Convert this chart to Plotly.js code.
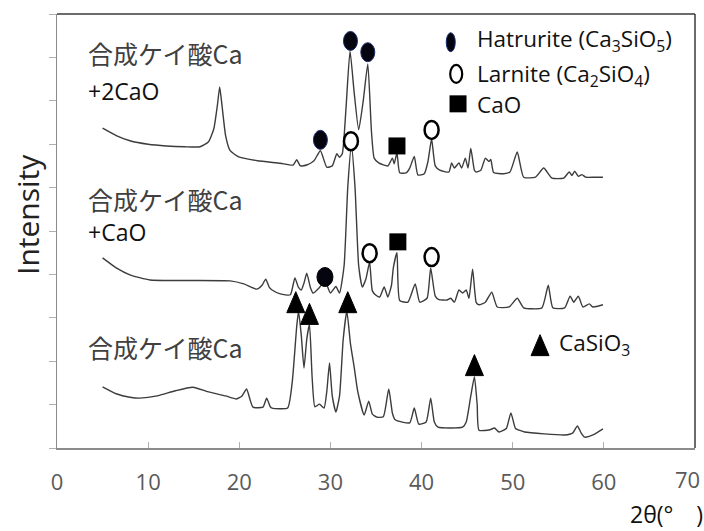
<!DOCTYPE html>
<html>
<head>
<meta charset="utf-8">
<script src="https://cdn.plot.ly/plotly-3.0.1.min.js"></script>
<style>html,body{margin:0;padding:0;background:#fff;}#chart{width:704px;height:531px;}</style>
</head>
<body>
<div id="chart"></div>
<script>
// ---- data (2θ in degrees, intensity in offset arbitrary units) ----
var topX = [5.0,6.5,8.0,10.0,12.0,14.0,15.7,16.6,17.2,17.6,17.85,18.1,18.5,19.0,20.0,22.0,24.5,25.9,26.3,26.7,27.4,28.2,28.9,29.6,30.2,30.7,31.0,31.3,31.7,32.15,32.6,33.1,33.6,34.1,34.5,34.8,35.3,36.3,36.8,37.0,37.3,37.6,38.3,38.7,39.2,39.6,40.3,40.7,41.1,41.5,42.0,43.0,43.3,43.6,44.1,44.4,44.8,45.1,45.4,45.8,46.0,46.5,47.0,47.4,47.6,47.9,49.0,49.7,50.5,51.2,52.5,53.4,54.3,55.6,56.2,56.5,56.8,57.2,57.6,58.0,59.0,59.9];
var topY = [7.37,7.2,7.08,7.0,6.96,6.94,6.94,7.05,7.35,7.9,8.32,7.9,7.2,6.85,6.7,6.62,6.56,6.52,6.64,6.5,6.52,6.62,6.85,6.47,6.5,6.78,6.7,6.78,7.8,9.15,8.2,7.33,8.0,8.85,7.3,6.68,6.57,6.5,6.68,6.55,6.8,6.34,6.34,6.45,6.72,6.29,6.32,6.6,7.12,6.5,6.4,6.36,6.57,6.45,6.57,6.45,6.68,6.45,6.91,6.4,6.36,6.4,6.68,6.6,6.65,6.35,6.32,6.36,6.82,6.24,6.24,6.45,6.22,6.22,6.36,6.28,6.38,6.26,6.3,6.24,6.24,6.24];

var midX = [5.0,6.5,8.0,10.2,14.0,19.0,20.5,21.9,22.5,22.9,23.3,23.6,24.5,25.6,26.1,26.5,26.8,27.1,27.4,27.8,28.1,28.8,29.4,30.0,30.6,31.0,31.5,31.9,32.3,32.7,33.1,33.5,33.9,34.3,34.6,35.0,35.4,35.9,36.3,36.7,36.9,37.3,37.6,38.5,39.3,39.8,40.6,41.0,41.5,41.9,42.8,43.2,43.6,44.1,44.5,44.9,45.2,45.6,46.0,46.3,47.0,47.7,48.3,49.6,50.5,51.2,53.2,53.9,54.4,55.7,56.3,56.7,57.2,57.7,58.4,58.8,59.9];
var midY = [4.38,4.15,3.99,3.87,3.86,3.85,3.78,3.66,3.75,3.89,3.7,3.64,3.55,3.53,3.92,3.7,3.64,3.8,4.03,3.7,3.57,3.7,3.85,3.57,3.72,3.57,4.2,6.0,6.98,6.0,4.2,3.71,3.9,4.28,3.62,3.52,3.48,3.71,3.48,3.75,4.15,4.5,3.4,3.36,3.78,3.36,3.45,4.15,3.5,3.42,3.41,3.45,3.36,3.64,3.57,3.64,3.45,4.12,3.35,3.3,3.36,3.59,3.25,3.25,3.45,3.23,3.23,3.75,3.23,3.23,3.5,3.36,3.5,3.25,3.32,3.25,3.3];

var botX = [5.0,6.5,8.0,9.1,11.0,13.0,14.9,16.5,18.5,19.7,20.3,20.8,21.2,21.5,22.6,23.0,23.4,23.6,25.3,25.8,26.3,26.5,26.8,27.1,27.4,27.7,28.0,28.3,28.8,29.3,29.6,29.9,30.2,30.6,31.0,31.4,31.8,32.2,32.6,33.0,33.7,34.2,34.6,35.1,35.8,36.4,36.8,37.1,38.7,39.2,39.7,40.5,41.0,41.4,41.8,44.5,44.9,45.4,45.8,46.1,46.3,47.5,48.0,48.5,49.3,49.8,50.3,50.7,51.3,55.7,56.6,57.1,57.5,57.9,58.8,59.9];
var botY = [1.41,1.25,1.17,1.15,1.2,1.32,1.4,1.3,1.2,1.13,1.2,1.36,1.1,0.94,0.94,1.15,0.95,0.92,0.92,1.5,2.8,3.15,2.6,1.84,2.5,2.85,1.6,0.95,1.01,0.92,1.3,1.96,1.2,0.83,1.2,2.5,3.15,2.4,1.87,1.3,0.76,1.08,0.78,0.71,0.72,1.36,0.8,0.65,0.58,0.92,0.55,0.6,1.15,0.6,0.48,0.48,0.6,1.2,1.64,1.0,0.41,0.42,0.46,0.37,0.45,0.81,0.45,0.41,0.37,0.3,0.35,0.51,0.35,0.25,0.3,0.44];

// phase marker positions
var hatX = [28.9, 32.2, 34.1, 29.4];
var hatY = [7.1, 9.38, 9.12, 3.94];
var larX = [32.25, 41.1, 34.3, 41.1];
var larY = [7.07, 7.33, 4.49, 4.40];
var caoX = [37.3, 37.4];
var caoY = [6.96, 4.75];
var triX = [26.2, 27.7, 31.9, 45.8];
var triY = [3.36, 3.09, 3.36, 1.91];

// key (legend) positions
var keyHatX = [43.2], keyHatY = [9.35];
var keyLarX = [43.8], keyLarY = [8.62];
var keyCaoX = [44.0], keyCaoY = [7.93];
var keyTriX = [53.0], keyTriY = [2.37];

var keyLabels = ['Hatrurite (Ca<sub>3</sub>SiO<sub>5</sub>)', 'Larnite (Ca<sub>2</sub>SiO<sub>4</sub>)', 'CaO', 'CaSiO<sub>3</sub>'];
var keyLabelX = [45.9, 45.9, 45.9, 54.9];
var keyLabelY = [9.39, 8.6, 7.92, 2.4];

var sampleLabels = ['合成ケイ酸Ca', '+2CaO', '合成ケイ酸Ca', '+CaO', '合成ケイ酸Ca'];
var sampleLabelX = [3.2, 3.2, 3.2, 3.2, 3.2];
var sampleLabelY = [9.1, 8.22, 5.74, 4.97, 2.33];
var xTicks = [0, 10, 20, 30, 40, 50, 60, 70];

// ---- layout helpers ----
var W = 704, H = 531;
var M = {l: 57, r: 9, t: 14, b: 83};
var pw = W - M.l - M.r, ph = H - M.t - M.b;
var XR = [0, 70], YR = [0, 10];
function ux(px) { return px * (XR[1] - XR[0]) / pw; }
function uy(px) { return px * (YR[1] - YR[0]) / ph; }

var shapes = [];
function ellipse(x, y, wpx, hpx, fill, lc, lw) {
  shapes.push({type: 'circle', xref: 'x', yref: 'y',
    x0: x - ux(wpx / 2), x1: x + ux(wpx / 2), y0: y - uy(hpx / 2), y1: y + uy(hpx / 2),
    fillcolor: fill, line: {color: lc, width: lw}, layer: 'above'});
}
function triangle(x, y, wpx, hpx) {
  var hw = ux(wpx / 2), hh = uy(hpx / 2);
  shapes.push({type: 'path', xref: 'x', yref: 'y',
    path: 'M' + (x - hw) + ',' + (y - hh) + ' L' + (x + hw) + ',' + (y - hh) + ' L' + x + ',' + (y + hh) + ' Z',
    fillcolor: '#000', line: {color: '#000', width: 1}, layer: 'above'});
}
hatX.forEach(function (x, i) { ellipse(x, hatY[i], i === 3 ? 16 : 14, 19, '#05050f', i === 3 ? '#000' : '#1c2f6e', 1); });
larX.forEach(function (x, i) { ellipse(x, larY[i], 14, 18, '#fff', '#000', 2.5); });
triX.forEach(function (x, i) { triangle(x, triY[i], 18, 21); });
ellipse(keyHatX[0], keyHatY[0], 9, 19, '#05050f', '#1c2f6e', 1);
ellipse(keyLarX[0], keyLarY[0], 12, 18, '#fff', '#000', 2.2);
triangle(keyTriX[0], keyTriY[0], 18, 21);
// frame: top and right edges darker
shapes.push({type: 'line', xref: 'paper', yref: 'paper', x0: 0, x1: 1, y0: 1, y1: 1, line: {color: '#3a3a3a', width: 1.5}});
shapes.push({type: 'line', xref: 'paper', yref: 'paper', x0: 1, x1: 1, y0: 0, y1: 1, line: {color: '#3a3a3a', width: 1.5}});

var lineStyle = {color: '#3c3c3c', width: 1.4, shape: 'spline', smoothing: 0.5};
var data = [
  {x: botX, y: botY, mode: 'lines', line: lineStyle, hoverinfo: 'skip'},
  {x: midX, y: midY, mode: 'lines', line: lineStyle, hoverinfo: 'skip'},
  {x: topX, y: topY, mode: 'lines', line: lineStyle, hoverinfo: 'skip'},
  {x: caoX.concat(keyCaoX), y: caoY.concat(keyCaoY), mode: 'markers',
   marker: {symbol: 'square', size: 17, color: '#000'}, hoverinfo: 'skip'}
];

var tickFont = {family: '"Open Sans"', size: 22, color: '#5a5a5a'};
var lastTick = xTicks[xTicks.length - 1];
var annotations = [];
sampleLabels.forEach(function (t, i) {
  var cjk = /[^\x00-\x7f]/.test(t);
  annotations.push({text: t, x: sampleLabelX[i], y: sampleLabelY[i], xref: 'x', yref: 'y',
    xanchor: 'left', yanchor: 'middle', showarrow: false,
    font: {family: cjk ? '"Noto Sans CJK JP", "Open Sans"' : '"Open Sans"', size: cjk ? 25 : 23, color: cjk ? '#404040' : '#111'}});
});
keyLabels.forEach(function (t, i) {
  annotations.push({text: t, x: keyLabelX[i], y: keyLabelY[i], xref: 'x', yref: 'y',
    xanchor: 'left', yanchor: 'middle', showarrow: false,
    font: {family: '"Open Sans"', size: 22.5, color: '#111'}});
});
// last tick label sits against the right edge of the figure; drawn right-anchored so it stays whole
annotations.push({text: String(lastTick), xref: 'paper', yref: 'paper', x: (W - 2 - M.l) / pw, y: (M.t + ph - 479) / ph,
  xanchor: 'right', yanchor: 'middle', showarrow: false, font: tickFont});
annotations.push({text: 'Intensity', xref: 'paper', yref: 'paper', x: (27 - M.l) / pw, y: (M.t + ph - 215) / ph,
  xanchor: 'center', yanchor: 'middle', textangle: -90, showarrow: false,
  font: {family: '"Open Sans"', size: 30, color: '#222'}});
annotations.push({text: '2θ(°　)', xref: 'paper', yref: 'paper', x: (628 - M.l) / pw, y: (M.t + ph - 514) / ph,
  xanchor: 'left', yanchor: 'middle', showarrow: false,
  font: {family: '"Open Sans"', size: 23, color: '#111'}});

var layout = {
  width: W, height: H, margin: M, showlegend: false,
  paper_bgcolor: '#fff', plot_bgcolor: '#fff',
  xaxis: {range: XR, tickvals: xTicks, ticktext: xTicks.map(function (v) { return v === lastTick ? '' : String(v); }),
    ticks: 'inside', ticklen: 6, tickcolor: '#b0b0b0',
    showline: true, linecolor: '#8c8c8c', linewidth: 1.5, showgrid: false, zeroline: false, mirror: false,
    ticklabeloverflow: 'allow', automargin: false,
    tickfont: tickFont, ticklabelstandoff: 14, fixedrange: true},
  yaxis: {range: YR, dtick: 1, ticks: 'outside', ticklen: 7, tickcolor: '#b0b0b0', showticklabels: false,
    showline: true, linecolor: '#8c8c8c', linewidth: 1.5, showgrid: false, zeroline: false, fixedrange: true},
  shapes: shapes, annotations: annotations
};
Plotly.newPlot('chart', data, layout, {staticPlot: true});
</script>
</body>
</html>
